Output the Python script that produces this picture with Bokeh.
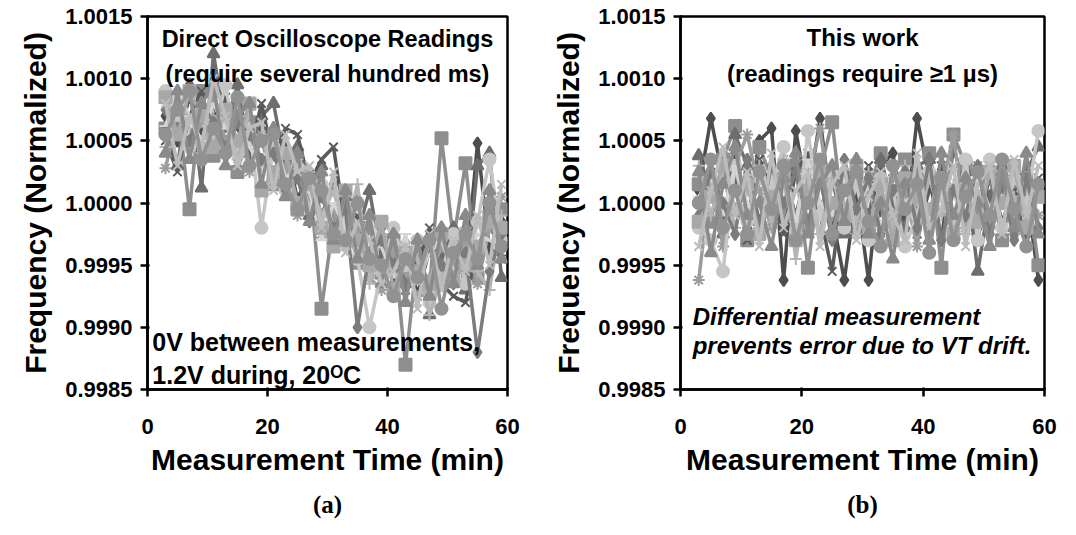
from bokeh.plotting import figure
from bokeh.layouts import row
from bokeh.models import Range1d, FixedTicker, PrintfTickFormatter, Label, Title
from bokeh.embed import file_html
from bokeh.resources import INLINE

# measurement times (min)
minutes = [3, 5, 7, 9, 11, 13, 15, 17, 19, 21, 23, 25, 27, 29, 31,
           33, 35, 37, 39, 41, 43, 45, 47, 49, 51, 53, 55, 57, 59]

# frequency deviation in ppm (frequency = 1 + ppm * 1e-6)
# panel (a): direct oscilloscope readings
a1 = [700, 500, 850, 560, 720, 430, 870, 320, 600, 200, 470, 30, 250, -100, 150, -320, 30, -500, -200, -650, -320, -740, -380, -620, -220, -560, 480, -380, -150]
a2 = [600, 780, -50, 900, 380, 750, 250, 650, 520, 150, 350, -50, 200, -850, -150, -80, -480, -200, -560, -300, -1300, -400, -700, 520, -300, 320, -600, -100, -50]
a3 = [560, 300, 950, 120, 1200, 600, 950, 400, 700, 800, 300, 450, -100, 300, -300, 50, -250, 100, -450, -250, -650, -300, -900, -450, -200, -700, 300, 400, -600]
a4 = [500, 250, 700, 900, 500, 850, 600, 400, 800, 350, 600, 550, 150, 350, 450, -200, -100, -550, -300, -450, -700, -500, -200, -650, -750, -800, -350, -150, -450]
a5 = [280, 700, 450, 650, 850, 500, 700, 250, 550, 200, 300, -100, 50, -250, -50, -350, -200, -600, -700, -400, -550, -750, -600, -350, -500, -300, -650, -200, 50]
a6 = [900, 650, 450, 750, 550, 950, 400, 600, -200, 450, 100, 280, -50, 150, -200, -100, -450, -1000, -550, -200, -500, -300, -800, -550, -250, -650, -150, 350, -300]
a7 = [450, 850, 600, 400, 700, 650, 350, 750, 300, 600, 150, 350, 250, -100, 100, -250, 150, -650, -250, -550, -350, -450, -900, -600, -400, -200, -550, -700, -100]
a8 = [620, 900, 700, 500, 800, 600, 700, 450, 300, 550, 200, 300, 100, -300, 0, -200, -400, -100, -350, -600, -250, -650, -400, -300, -550, -450, -250, -300, -350]
a9 = [750, 600, 500, 800, 650, 450, 650, 550, 350, 400, 100, 200, -150, 50, -200, -50, -1000, -400, -300, -500, -650, -600, -350, -500, -650, -400, -1200, -550, -250]
a10 = [850, 550, 900, 700, 450, 750, 500, 800, 100, 250, 400, 0, 150, -200, -350, 100, -300, -500, -150, -700, -400, -550, -650, -250, -600, -500, -350, -150, -200]
a11 = [400, 900, 350, 800, 950, 300, 700, 800, 150, 600, 50, 400, -150, 250, -300, 100, -450, -100, -650, -250, -800, -300, -750, -200, -650, -100, -500, 100, -450]
a12 = [800, 300, 700, 450, 1000, 700, 300, 600, 650, 100, 550, 250, 300, -200, 250, -400, -150, -300, -650, -550, -350, -850, -250, -700, -300, -550, -100, -500, 150]
a13 = [550, 750, 900, 350, 600, 400, 850, 300, 500, 550, 150, -50, 200, 100, -250, -300, 0, -450, -500, -750, -450, -600, -300, -850, -400, -250, -450, 0, -350]

# panel (b): this work (differential measurement)
b1 = [100, 680, 200, 400, -200, 500, 600, -620, 580, 50, 680, -100, -620, 100, -620, 300, 400, -200, 680, 200, -300, 450, 100, -200, 300, 150, -250, 100, -620]
b2 = [150, -150, 350, 620, -300, 450, 200, -100, 300, -520, 250, 650, -200, 200, 100, 400, -150, 350, -100, 400, -520, 550, 300, -100, 200, -300, 150, 200, -500]
b3 = [380, 100, -250, 550, 300, -150, 100, 250, -100, 300, -50, 200, -250, 150, -100, 350, 0, -200, 300, 350, 100, -150, 250, -550, 50, 300, -100, 250, 450]
b4 = [-200, 300, -150, 200, -300, 350, 100, -250, 250, 400, -100, -550, 200, -200, 300, -100, 250, 150, -250, 100, 300, -200, 150, -300, 250, -150, 100, -300, 200]
b5 = [-620, 200, -350, 300, 550, 100, -200, 350, -150, 200, 600, -100, 250, -250, 150, -300, 200, 100, -350, 250, 100, 550, -200, 300, -150, 200, -250, 150, -100]
b6 = [-200, -300, -550, 300, -150, 200, 150, 450, -250, 580, -100, 250, -200, 150, -300, 200, 100, -350, -100, 250, 50, -200, 350, -300, 350, -200, 200, 0, 580]
b7 = [300, -100, 250, -200, 100, 300, -150, 350, -450, 150, -250, 200, 0, -150, 250, 100, -200, 300, -150, 200, -100, 150, -250, 100, -200, 250, 50, -150, 100]
b8 = [50, 200, -100, 300, 0, -200, 250, 100, -150, 350, 0, -100, 200, -50, 150, -200, 300, 0, 100, -150, 250, 50, -100, 200, -50, 100, -150, 250, 0]
b9 = [-100, 250, 0, -250, 350, -200, 300, 0, 250, -150, 200, -300, 350, -50, 200, -250, 100, 250, -200, 350, -300, 100, -100, 300, -250, 150, -300, 200, -200]
b10 = [-150, 50, 300, -50, 150, -250, 50, 200, -300, 100, 250, 0, -100, 300, -200, 150, -300, 200, 50, -50, 200, -250, 100, -150, 250, 0, 300, -200, 50]
b11 = [250, -400, 150, 450, -100, 0, -350, 200, 400, -250, 150, 300, -150, 350, -250, 0, -450, 150, 250, -300, 400, -100, 200, 0, -350, 250, -200, 400, -250]
b12 = [-350, 100, 450, -100, 250, -350, 400, -200, 100, 250, -350, 150, 300, -300, 50, 250, -100, -300, 400, -200, -50, 300, -350, 150, 300, -250, 350, -100, 300]
b13 = [0, 350, -200, 100, -250, 250, -50, 300, -300, 0, 350, -250, 100, 250, -150, -350, 300, -50, 150, -400, 200, -300, 50, 250, -100, 350, -50, -350, 150]

series_a = [a1, a2, a3, a4, a5, a6, a7, a8, a9, a10, a11, a12, a13]
series_b = [b1, b2, b3, b4, b5, b6, b7, b8, b9, b10, b11, b12, b13]

colors = ["#4e4e4e", "#8e8e8e", "#6e6e6e", "#5a5a5a", "#9c9c9c",
          "#c6c6c6", "#b4b4b4", "#d4d4d4", "#7c7c7c", "#a8a8a8",
          "#8a8a8a", "#bcbcbc", "#929292"]
markers = ["diamond", "square", "triangle", "x", "asterisk",
           "circle", "cross", "dash", "diamond", "square",
           "triangle", "x", "circle"]

y_ticks = [0.9985, 0.999, 0.9995, 1.0, 1.0005, 1.001, 1.0015]
x_ticks = [0, 20, 40, 60]

FONT = "Liberation Sans"
HEIGHT = 527


def make_panel(series, width, left, right, top, frame_h, letter):
    p = figure(width=width, height=HEIGHT, output_backend="svg", toolbar_location=None,
               x_range=Range1d(0, 60), y_range=Range1d(0.9985, 1.0015),
               min_border_left=left, min_border_right=right,
               min_border_top=top, min_border_bottom=HEIGHT - top - frame_h)
    p.background_fill_color = "white"
    p.border_fill_color = "white"
    p.outline_line_color = "black"
    p.outline_line_width = 2.5
    p.xgrid.visible = False
    p.ygrid.visible = False
    for vals, c, m in zip(series, colors, markers):
        yv = [1 + v * 1e-6 for v in vals]
        p.line(minutes, yv, line_color=c, line_width=3.5)
        p.scatter(minutes, yv, marker=m, size=12, fill_color=c, line_color=c,
                  line_width=2)
    p.yaxis.ticker = FixedTicker(ticks=y_ticks)
    p.yaxis.formatter = PrintfTickFormatter(format="%.4f")
    p.xaxis.ticker = FixedTicker(ticks=x_ticks)
    for ax in (p.xaxis[0], p.yaxis[0]):
        ax.axis_line_width = 2.5
        ax.axis_line_color = "black"
        ax.major_tick_line_width = 2.5
        ax.major_tick_line_color = "black"
        ax.major_tick_out = 7
        ax.major_tick_in = 2
        ax.minor_tick_out = 0
        ax.minor_tick_in = 0
        ax.major_label_text_font = FONT
        ax.major_label_text_font_style = "bold"
        ax.major_label_text_font_size = "22px"
        ax.major_label_text_color = "black"
        ax.axis_label_text_font = FONT
        ax.axis_label_text_font_style = "bold"
        ax.axis_label_text_color = "black"
    p.yaxis.axis_label = "Frequency (Normalized)"
    p.yaxis.axis_label_text_font_size = "30px"
    p.yaxis.major_label_standoff = 8
    p.yaxis.axis_label_standoff = 10
    p.xaxis.axis_label = "Measurement Time (min)"
    p.xaxis.axis_label_text_font_size = "30px"
    p.xaxis.major_label_standoff = 22
    p.xaxis.axis_label_standoff = 6
    p.add_layout(Title(text=letter, align="center", text_font="Liberation Serif",
                       text_font_style="bold", text_font_size="25px",
                       text_color="black", standoff=20), "below")
    return p


pa = make_panel(series_a, 540, 147, 33, 15, 375, "(a)")
pb = make_panel(series_b, 528, 140, 24, 16, 376, "(b)")


def add_text(p, x, y, text, size, align="center", style="bold"):
    p.add_layout(Label(x=x, y=y, text=text, text_align=align, text_baseline="middle",
                       text_font=FONT, text_font_style=style, text_font_size=size,
                       text_color="black"))


add_text(pa, 30, 1.00132, "Direct Oscilloscope Readings", "23.5px")
add_text(pa, 30, 1.00104, "(require several hundred ms)", "23.5px")
add_text(pa, 0.8, 0.99888, "0V between measurements,", "25px", align="left")
add_text(pa, 0.8, 0.99862, "1.2V during, 20\u1d3cC", "25px", align="left")

add_text(pb, 30, 1.00133, "This work", "24px")
add_text(pb, 30, 1.00104, "(readings require \u22651 \u00b5s)", "24px")
add_text(pb, 2.0, 0.99909, "Differential measurement", "24px", align="left",
         style="bold italic")
add_text(pb, 2.0, 0.99885, "prevents error due to VT drift.", "24px", align="left",
         style="bold italic")

layout = row(pa, pb)
open("out.html", "w").write(file_html(layout, INLINE))
